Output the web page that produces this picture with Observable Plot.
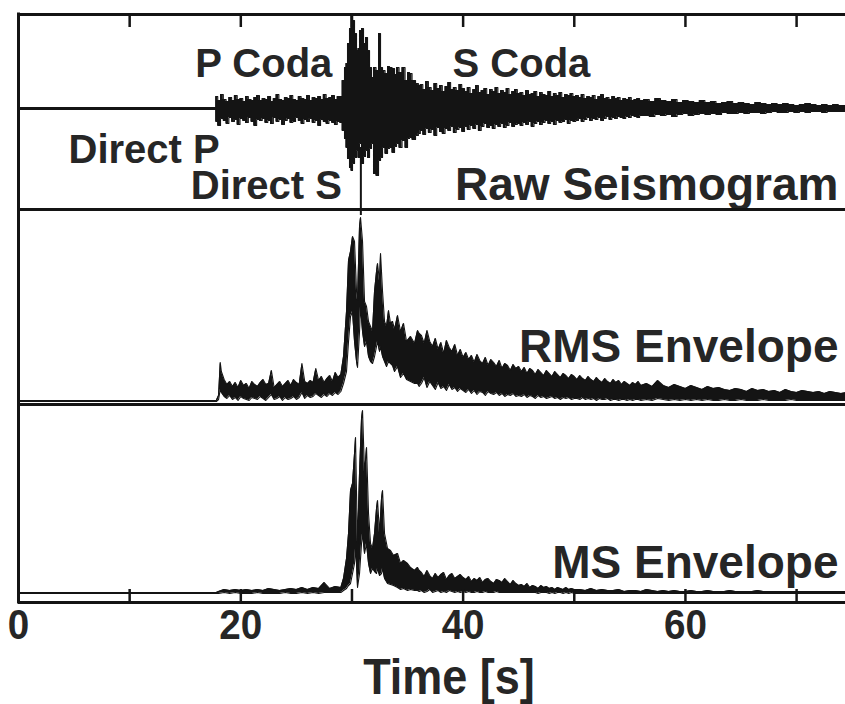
<!DOCTYPE html>
<html><head><meta charset="utf-8">
<script src="https://cdn.jsdelivr.net/npm/d3@7"></script>
<script src="https://cdn.jsdelivr.net/npm/@observablehq/plot@0.6"></script>
<style>
html,body{margin:0;padding:0;background:#fff;}
#fig{position:relative;width:845px;height:704px;overflow:hidden;background:#fff;}
#fig svg{position:absolute;left:0;}
</style></head><body><div id="fig"></div>
<script>
// ---------- labels / ticks ----------
const xTicks = [10, 20, 30, 40, 50, 60, 70];
const xTickLabels = [0, 20, 40, 60];
const xLabel = "Time [s]";
const panelLabels = ["Raw Seismogram", "RMS Envelope", "MS Envelope"];
const phaseLabels = ["P Coda", "S Coda", "Direct P", "Direct S"];
const phaseTime = [15.9, 39.05, 4.5, 15.5];   // left edge of each phase label [s]
const phaseAmp = [32, 32, -54, -90];          // baseline of each phase label (raw units)
const directSTime = 30.8;

// ---------- raw seismogram: upper / lower edge of the dense trace ----------
const rawPreTime = [0, 17.7];
const rawPreUpper = [1, 1];
const rawPreLower = [-1, -1];
// P coda, sampled every 0.25 s from 17.8 s
const rawPStart = 17.8, rawPStep = 0.25;
const rawPUpper = [12, 8, 14, 9, 7, 11, 8, 13, 9, 10, 7, 12, 9, 8, 11, 13, 8, 10, 9, 12, 7, 10, 14, 9, 8,
  11, 10, 13, 9, 8, 12, 10, 9, 13, 8, 11, 10, 12, 9, 14, 10, 11, 13, 9, 12];
const rawPLower = [-13, -17, -10, -12, -15, -9, -13, -11, -16, -10, -12, -14, -9, -13, -17, -11, -12, -10, -14, -12, -15, -9, -13, -11, -16,
  -12, -10, -14, -13, -9, -12, -15, -11, -13, -10, -14, -12, -17, -11, -13, -15, -12, -14, -16, -13];
// direct S arrival, read spike by spike
const rawSTime = [29.0, 29.24, 29.42, 29.51, 29.69, 29.87, 29.96, 30.14, 30.32, 30.50, 30.59, 30.77, 30.95, 31.13, 31.31, 31.49, 31.67, 31.85, 32.03, 32.30, 32.48, 32.66, 32.84, 33.11, 33.29, 33.47, 33.74, 33.92, 34.10, 34.37, 34.64, 34.91, 35.09, 35.27, 35.54, 35.90, 36.05];
const rawSUpper = [12, 28, 41, 45, 65, 80, 93, 88, 75, 58, 60, 78, 80, 65, 71, 58, 41, 31, 41, 38, 75, 41, 38, 35, 42, 41, 40, 34, 41, 36, 41, 28, 36, 35, 28, 25, 23];
const rawSLower = [-14, -22, -30, -39, -50, -59, -62, -55, -49, -42, -49, -35, -55, -48, -42, -49, -40, -35, -65, -67, -52, -49, -39, -45, -40, -39, -44, -38, -35, -39, -32, -39, -30, -29, -31, -27, -25];
// S coda, every 0.25 s from 36.25 s, then every 0.5 s from 56.5 s
const rawCStart = 36.25, rawCStep = 0.25;
const rawCUpper = [24, 19, 27, 21, 18, 25, 20, 23, 17, 22, 26, 19, 21, 18, 24, 20,
  17, 21, 15, 19, 23, 16, 18, 20, 14, 19, 17, 21, 15, 18, 16, 20, 14, 17, 19, 15,
  16, 13, 18, 14, 15, 17, 12, 16, 14, 13, 17, 12, 15, 13, 16, 11, 14, 13, 15, 12,
  13, 11, 14, 10, 12, 11, 13, 9, 12, 14, 10, 11, 9, 12, 10, 11, 8, 10, 9, 11, 8, 9, 10, 8];
const rawCLower = [-22, -26, -20, -24, -21, -27, -19, -23, -25, -20, -22, -18, -24, -21, -19, -23,
  -18, -21, -17, -20, -16, -22, -18, -15, -19, -17, -20, -16, -18, -15, -19, -17, -14, -18, -16, -15,
  -17, -14, -16, -13, -18, -15, -13, -16, -14, -12, -15, -13, -16, -12, -14, -13, -11, -15, -12, -13,
  -12, -10, -13, -11, -9, -12, -10, -11, -9, -12, -10, -8, -11, -9, -10, -8, -9, -10, -8, -9, -7, -8, -9, -7];
const rawTStart = 56.5, rawTStep = 0.5;
const rawTUpper = [9, 7, 10, 8, 7, 9, 6, 8, 7, 6, 8, 6, 7, 5, 6, 7, 5, 6, 5, 4, 6, 5, 4, 5, 4, 5, 4, 3, 4, 5, 4, 3, 4, 3, 4, 3, 3];
const rawTLower = [-7, -8, -6, -7, -6, -8, -6, -5, -7, -6, -5, -6, -5, -6, -4, -5, -5, -4, -5, -4, -4, -5, -4, -3, -4, -4, -3, -4, -3, -4, -3, -3, -4, -3, -3, -3, -3];

// ---------- RMS envelope (height above its baseline) ----------
const rmsPreTime = [0, 17.8, 18.0, 18.15];
const rmsPreUpper = [1, 1, 6, 39];
const rmsPreLower = [0, 0, 2, 12];
const rmsPStart = 18.25, rmsPStep = 0.25;
const rmsPUpper = [30, 22, 17, 20, 15, 19, 14, 21, 16, 18, 13, 20, 17, 15, 19, 22, 17, 18, 31, 14, 17, 20, 15, 18, 21,
  16, 22, 19, 17, 38, 20, 18, 21, 19, 33, 21, 25, 19, 23, 26, 20, 29, 24, 27];
const rmsPLower = [9, 5, 3, 6, 2, 4, 1, 5, 3, 2, 1, 4, 3, 2, 5, 3, 1, 4, 7, 2, 3, 5, 1, 4, 2,
  3, 5, 2, 4, 9, 3, 6, 4, 5, 8, 6, 4, 7, 5, 8, 6, 9, 7, 10];
const rmsSTime = [29.24, 29.51, 29.69, 29.87, 30.05, 30.23, 30.41, 30.50, 30.68, 30.77, 30.95, 31.13, 31.31, 31.49, 31.67, 31.85, 32.03, 32.21, 32.30, 32.48, 32.57, 32.75, 32.93, 33.11, 33.29, 33.47, 33.65, 33.83, 34.10, 34.37, 34.64, 34.91, 35.27, 35.63, 35.90, 36.05];
const rmsSUpper = [45, 90, 141, 150, 165, 160, 110, 101, 175, 184, 160, 100, 95, 80, 75, 70, 110, 130, 138, 120, 148, 110, 80, 75, 91, 78, 80, 72, 86, 70, 78, 60, 65, 58, 71, 68];
const rmsSLower = [18, 30, 60, 85, 90, 60, 40, 34, 70, 95, 70, 55, 60, 45, 40, 38, 45, 55, 60, 50, 55, 45, 40, 35, 40, 38, 36, 30, 35, 24, 28, 22, 20, 18, 18, 15];
const rmsCStart = 36.25, rmsCStep = 0.25;
const rmsCUpper = [66, 58, 71, 60, 55, 63, 52, 59, 48, 61, 54, 50, 57, 46, 52, 44,
  49, 42, 46, 39, 47, 41, 38, 44, 36, 42, 39, 35, 41, 33, 38, 36, 31, 37, 33, 35,
  30, 34, 28, 33, 31, 27, 32, 29, 26, 31, 28, 25, 30, 27, 24, 28, 26, 23, 27, 25,
  22, 26, 23, 21, 25, 22, 20, 24, 21, 19, 23, 20, 18, 22, 19, 21, 17, 20, 18, 16, 19, 17, 20, 16];
const rmsCLower = [18, 24, 14, 20, 16, 12, 19, 13, 15, 11, 17, 12, 14, 10, 13, 11,
  9, 12, 8, 11, 7, 10, 9, 6, 10, 8, 7, 9, 6, 8, 5, 7, 6, 8, 5, 6,
  5, 7, 4, 6, 5, 3, 6, 4, 5, 3, 4, 5, 3, 4, 2, 4, 3, 4, 2, 3,
  3, 2, 4, 2, 3, 2, 3, 1, 3, 2, 2, 3, 1, 2, 2, 1, 2, 2, 1, 2, 1, 2, 2, 1];
const rmsTStart = 56.5, rmsTStep = 0.5;
const rmsTUpper = [18, 15, 21, 16, 14, 17, 15, 13, 16, 14, 12, 15, 13, 14, 12, 11, 13, 12, 10, 13, 11, 12, 10, 11, 9, 12, 10, 9, 11, 10, 9, 10, 8, 10, 9, 8, 9];
const rmsTLower = [2, 1, 3, 2, 1, 2, 1, 2, 1, 2, 1, 2, 1, 1, 2, 1, 1, 2, 1, 1, 1, 2, 1, 1, 1, 1, 2, 1, 1, 1, 1, 1, 1, 1, 1, 1, 1];

// ---------- MS envelope (height above its baseline) ----------
const msPreTime = [0, 17.8];
const msPreUpper = [1, 1];
const msPreLower = [0, 0];
const msPStart = 18.0, msPStep = 0.5;
const msPUpper = [2, 4, 3, 4, 3, 4, 3, 4, 3, 5, 4, 3, 4, 5, 4, 6, 4, 6, 5, 11, 5, 7, 6];
const msPLower = [0, 1, 0, 1, 0, 0, 0, 1, 0, 0, 0, 0, 1, 0, 0, 1, 0, 1, 0, 1, 1, 1, 1];
const msSTime = [29.24, 29.51, 29.69, 29.87, 30.05, 30.23, 30.32, 30.41, 30.50, 30.68, 30.86, 30.95, 31.13, 31.31, 31.49, 31.67, 31.85, 32.03, 32.21, 32.30, 32.48, 32.66, 32.75, 32.93, 33.20, 33.47, 33.74, 34.10, 34.37, 34.64, 35.00, 35.27, 35.63, 35.90, 36.05];
const msSUpper = [15, 35, 60, 103, 110, 140, 156, 100, 50, 120, 175, 183, 120, 146, 80, 50, 45, 60, 85, 93, 60, 95, 103, 60, 45, 43, 38, 40, 30, 33, 30, 26, 23, 26, 23];
const msSLower = [3, 5, 8, 10, 20, 30, 45, 30, 6, 20, 50, 60, 40, 50, 30, 20, 25, 22, 20, 25, 18, 20, 25, 15, 10, 9, 8, 6, 4, 5, 3, 4, 3, 3, 2];
const msCStart = 36.25, msCStep = 0.25;
const msCUpper = [21, 17, 23, 18, 15, 20, 16, 19, 21, 14, 18, 20, 15, 17, 19, 16,
  14, 17, 12, 15, 13, 16, 11, 14, 15, 12, 10, 14, 13, 11, 15, 12, 9, 13, 10, 8,
  9, 7, 10, 6, 8, 7, 5, 8, 6, 7, 5, 6, 4, 6, 5, 4, 6, 4, 5, 4];
const msCLower = [3, 1, 2, 4, 1, 2, 3, 1, 2, 1, 3, 2, 1, 2, 1, 2,
  1, 2, 1, 1, 2, 1, 1, 2, 1, 1, 1, 2, 1, 1, 1, 1, 1, 1, 1, 1,
  1, 1, 1, 1, 1, 1, 0, 1, 1, 1, 0, 1, 0, 1, 1, 0, 1, 0, 1, 0];
const msTStart = 50.5, msTStep = 0.5;
const msTUpper = [4, 3, 5, 3, 4, 3, 3, 4, 2, 3, 3, 2, 4, 3, 2, 3, 2, 3, 2, 2, 3, 2, 2, 3, 2,
  2, 2, 3, 2, 2, 2, 2, 3, 2, 2, 2, 2, 2, 2, 2, 2, 2, 2, 2, 2, 2, 2, 2, 2];
const msTLower = [0, 0, 0, 0, 0, 0, 0, 0, 0, 0, 0, 0, 0, 0, 0, 0, 0, 0, 0, 0, 0, 0, 0, 0, 0,
  0, 0, 0, 0, 0, 0, 0, 0, 0, 0, 0, 0, 0, 0, 0, 0, 0, 0, 0, 0, 0, 0, 0, 0];

// ---------- build ----------
const INK = "#141414";
const TXT = "#262626";
const FONT = "'Liberation Sans', Arial, Helvetica, sans-serif";
const xDomain = [0, 74.4];
const fig = document.getElementById("fig");

const listed = (T, U, L) => T.map((t, i) => ({t, up: U[i], lo: L[i]}));
const sampled = (t0, dt, U, L) => U.map((u, i) => ({t: t0 + i * dt, up: u, lo: L[i]}));

const raw = [
  ...listed(rawPreTime, rawPreUpper, rawPreLower),
  ...sampled(rawPStart, rawPStep, rawPUpper, rawPLower),
  ...listed(rawSTime, rawSUpper, rawSLower),
  ...sampled(rawCStart, rawCStep, rawCUpper, rawCLower),
  ...sampled(rawTStart, rawTStep, rawTUpper, rawTLower)
];
const rms = [
  ...listed(rmsPreTime, rmsPreUpper, rmsPreLower),
  ...sampled(rmsPStart, rmsPStep, rmsPUpper, rmsPLower),
  ...listed(rmsSTime, rmsSUpper, rmsSLower),
  ...sampled(rmsCStart, rmsCStep, rmsCUpper, rmsCLower),
  ...sampled(rmsTStart, rmsTStep, rmsTUpper, rmsTLower)
];
const ms = [
  ...listed(msPreTime, msPreUpper, msPreLower),
  ...sampled(msPStart, msPStep, msPUpper, msPLower),
  ...listed(msSTime, msSUpper, msSLower),
  ...sampled(msCStart, msCStep, msCUpper, msCLower),
  ...sampled(msTStart, msTStep, msTUpper, msTLower)
];

function trace(data, curve) {
  return [
    Plot.areaY(data, {x: "t", y1: "lo", y2: "up", fill: INK, curve}),
    Plot.line(data, {x: "t", y: "up", stroke: INK, strokeWidth: 1.1, curve}),
    Plot.line(data, {x: "t", y: "lo", stroke: INK, strokeWidth: 1.1, curve})
  ];
}
function frameLeft(yd) {
  return Plot.ruleX([0], {y1: yd[0], y2: yd[1], stroke: INK, strokeWidth: 3, strokeLinecap: "square"});
}
// horizontally squeeze selected texts around their anchor point
function squeeze(svg, strings, sx) {
  svg.querySelectorAll("text").forEach(t => {
    if (!strings.includes(t.textContent)) return;
    const xa = t.getAttribute("x"), ya = t.getAttribute("y");
    const x = xa && !/em/.test(xa) ? +xa : 0, y = ya && !/em/.test(ya) ? +ya : 0;
    if (xa && !/em/.test(xa)) t.removeAttribute("x");
    if (ya && !/em/.test(ya)) t.removeAttribute("y");
    const T = t.getAttribute("transform") || "";
    t.setAttribute("transform", `${T} translate(${x},${y}) scale(${sx},1)`);
  });
}
function panel(top, height, mt, mb, yd, marks) {
  const svg = Plot.plot({
    width: 845, height, marginTop: mt, marginBottom: mb, marginLeft: 18, marginRight: 0,
    x: {domain: xDomain, axis: null},
    y: {domain: yd, axis: null},
    style: {background: "transparent", overflow: "visible", fontFamily: FONT},
    marks
  });
  svg.style.top = top + "px";
  fig.append(svg);
  return svg;
}

// Panel 1: raw seismogram
const y1d = [-101, 94];
panel(0, 215, 14, 6, y1d, [
  ...trace(raw, "step"),
  Plot.ruleY([y1d[1]], {stroke: INK, strokeWidth: 3}),
  frameLeft(y1d),
  Plot.ruleX(xTicks, {y1: y1d[1], y2: y1d[1] - 13, stroke: INK, strokeWidth: 2.5}),
  Plot.ruleX([directSTime], {y1: -39, y2: y1d[0], stroke: INK, strokeWidth: 2}),
  Plot.text(phaseLabels, {x: (d, i) => phaseTime[i], y: (d, i) => phaseAmp[i], text: d => d,
    textAnchor: "start", lineAnchor: "bottom", fontSize: 40, fontWeight: "bold", fill: TXT}),
  Plot.text([panelLabels[0]], {frameAnchor: "bottom-right", textAnchor: "end", lineAnchor: "bottom",
    dx: -7, dy: -10, fontSize: 46, fontWeight: "bold", fill: TXT})
]);

// Panel 2: RMS envelope
const y2d = [-3, 192];
panel(199, 215, 10, 10, y2d, [
  ...trace(rms, "linear"),
  Plot.ruleY([y2d[1]], {stroke: INK, strokeWidth: 3}),
  frameLeft(y2d),
  Plot.ruleX([directSTime], {y1: y2d[1], y2: y2d[1] - 6, stroke: INK, strokeWidth: 2}),
  Plot.text([panelLabels[1]], {frameAnchor: "bottom-right", textAnchor: "end", lineAnchor: "bottom",
    dx: -7, dy: -43, fontSize: 46, fontWeight: "bold", fill: TXT})
]);

// Panel 3: MS envelope + time axis
const y3d = [-9, 189];
const svg3 = panel(394, 310, 10, 102, y3d, [
  ...trace(ms, "linear"),
  Plot.ruleY([y3d[1]], {stroke: INK, strokeWidth: 3}),
  Plot.ruleY([y3d[0]], {stroke: INK, strokeWidth: 3}),
  frameLeft(y3d),
  Plot.ruleX(xTicks, {y1: y3d[0], y2: y3d[0] + 13, stroke: INK, strokeWidth: 2.5}),
  Plot.text([panelLabels[2]], {frameAnchor: "bottom-right", textAnchor: "end", lineAnchor: "bottom",
    dx: -7, dy: -25, fontSize: 46, fontWeight: "bold", fill: TXT}),
  Plot.text(xTickLabels, {x: d => d, y: y3d[0], text: d => String(d), textAnchor: "middle", lineAnchor: "bottom",
    dy: 36, fontSize: 42, fontWeight: "bold", fill: TXT}),
  Plot.text([xLabel], {frameAnchor: "bottom", textAnchor: "middle", lineAnchor: "bottom",
    dx: 17, dy: 91, fontSize: 50, fontWeight: "bold", fill: TXT})
]);
squeeze(svg3, xTickLabels.map(String), 0.92);
squeeze(svg3, [xLabel], 0.9);
</script></body></html>
